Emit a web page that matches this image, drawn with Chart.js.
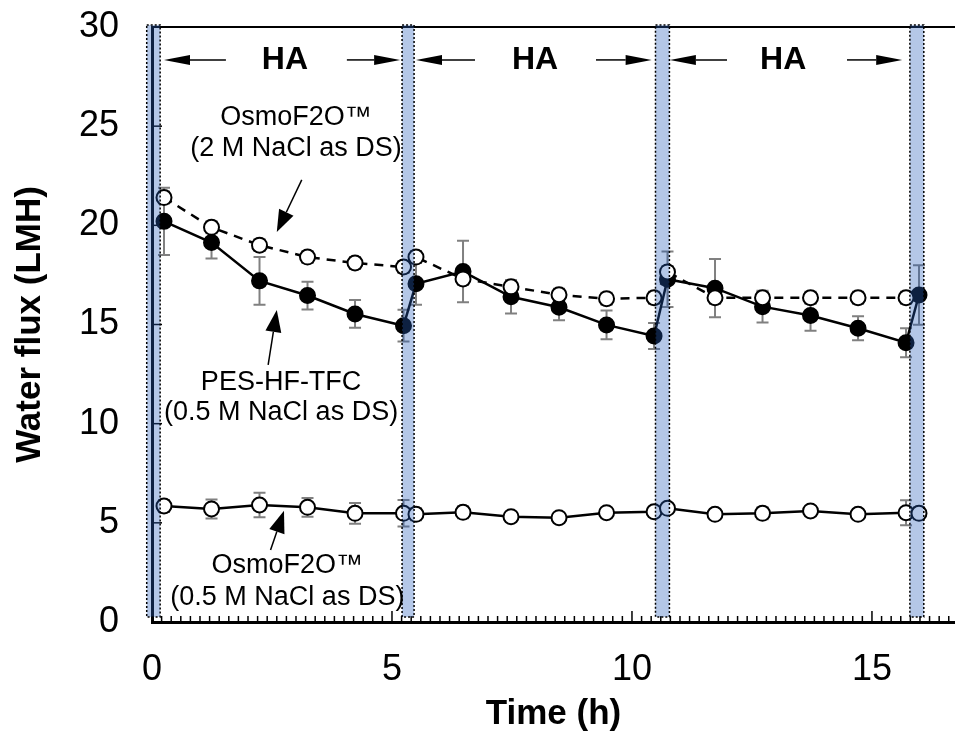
<!DOCTYPE html>
<html>
<head>
<meta charset="utf-8">
<script src="https://cdn.jsdelivr.net/npm/chart.js@4.4.0/dist/chart.umd.min.js"></script>
<style>
html, body { margin: 0; padding: 0; background: #fff; }
</style>
</head>
<body>
<canvas id="myChart" width="955" height="735"></canvas>
<script>
// time axis (h) shared by the three series
var timeH = [0.25, 1.24, 2.24, 3.24, 4.23, 5.24, 5.5, 6.48, 7.48, 8.48, 9.47, 10.46, 10.74, 11.73, 12.72, 13.72, 14.71, 15.71, 15.98];

// OsmoF2O, 2 M NaCl as DS (open circles, dashed)
var fluxOsmo2M = [21.4, 19.9, 19.0, 18.4, 18.1, 17.9, 18.4, 17.3, 16.9, 16.5, 16.3, 16.35, 17.65, 16.35, 16.35, 16.35, 16.35, 16.35, null];
var errOsmo2M  = [0.3, 0.3, 0.3, 0.3, 0.3, 0.3, 0.3, 0.3, 0.3, 0.3, 0.3, 0.3, 0.3, 0.3, 0.3, 0.3, 0.3, 0.3, null];

// PES-HF-TFC, 0.5 M NaCl as DS (filled circles)
var fluxPes = [20.2, 19.13, 17.2, 16.46, 15.53, 14.94, 17.05, 17.67, 16.4, 15.87, 14.98, 14.42, 17.28, 16.83, 15.9, 15.45, 14.81, 14.08, 16.49];
var errPes  = [1.7, 0.8, 1.2, 0.7, 0.7, 0.8, 1.05, 1.55, 0.85, 0.65, 0.72, 0.65, 1.4, 1.47, 0.8, 0.77, 0.6, 0.73, 1.5];

// OsmoF2O, 0.5 M NaCl as DS (open circles, solid)
var fluxOsmo05 = [5.85, 5.7, 5.9, 5.78, 5.48, 5.48, 5.43, 5.53, 5.31, 5.26, 5.51, 5.56, 5.73, 5.43, 5.48, 5.6, 5.43, 5.51, 5.48];
var errOsmo05  = [0.3, 0.48, 0.62, 0.47, 0.52, 0.67, 0.3, 0.3, 0.2, 0.2, 0.2, 0.2, 0.2, 0.2, 0.3, 0.2, 0.2, 0.63, 0.3];

var yTicks = [0, 5, 10, 15, 20, 25, 30];
var xTicks = [0, 5, 10, 15];

// HA feeding intervals (cleaning bands between them), in hours
var bandStart = [-0.11, 5.21, 10.49, 15.79];
var bandEnd   = [0.17, 5.46, 10.78, 16.08];
var haCenter  = [2.77, 7.98, 13.15];
var haLeftArrow  = [[1.54, 0.25], [6.73, 5.5], [11.98, 10.79]];
var haRightArrow = [[4.06, 5.17], [9.25, 10.41], [14.48, 15.63]];
var haLevel = 28.34;

// series labels with pointer arrows
var labelTexts = [["OsmoF2O\u2122", "(2 M NaCl as DS)"], ["PES-HF-TFC", "(0.5 M NaCl as DS)"], ["OsmoF2O\u2122", "(0.5 M NaCl as DS)"]];
var labelX = [3.0, 2.69, 2.82];
var labelY = [[25.42, 23.85], [12.05, 10.54], [2.87, 1.21]];
var pointerFrom = [[3.12, 22.29], [2.42, 12.96], [2.47, 3.63]];
var pointerTo   = [[2.60, 19.66], [2.60, 15.73], [2.75, 5.61]];

var FONT = '"Liberation Sans", Arial, sans-serif';

function pts(arr) {
    var out = [];
    for (var i = 0; i < timeH.length; i++) {
        if (arr[i] !== null) out.push({x: timeH[i], y: arr[i]});
    }
    return out;
}
function errs(arr) {
    return arr.filter(function (v) { return v !== null; });
}

function arrow(ctx, x1, y1, x2, y2, headLen, headHalf, lw) {
    var a = Math.atan2(y2 - y1, x2 - x1);
    var bx = x2 - headLen * Math.cos(a), by = y2 - headLen * Math.sin(a);
    ctx.beginPath();
    ctx.lineWidth = lw;
    ctx.moveTo(x1, y1);
    ctx.lineTo(bx, by);
    ctx.stroke();
    ctx.beginPath();
    ctx.moveTo(x2, y2);
    ctx.lineTo(bx + headHalf * Math.sin(a), by - headHalf * Math.cos(a));
    ctx.lineTo(bx - headHalf * Math.sin(a), by + headHalf * Math.cos(a));
    ctx.closePath();
    ctx.fill();
}

var decorations = {
    id: 'decorations',
    beforeDatasetsDraw: function (chart) {
        var ctx = chart.ctx, xs = chart.scales.x, ys = chart.scales.y, area = chart.chartArea;
        ctx.save();
        // frame top line
        ctx.strokeStyle = '#000';
        ctx.lineWidth = 2;
        ctx.beginPath();
        ctx.moveTo(area.left, area.top);
        ctx.lineTo(area.right, area.top);
        ctx.stroke();
        // inward tick marks
        ctx.lineWidth = 1.5;
        for (var t = 0; t <= 83; t++) {
            var xv = t * 0.2;
            var xp = xs.getPixelForValue(xv);
            var len = (t % 25 === 0) ? 11 : 6;
            ctx.beginPath();
            ctx.moveTo(xp, area.bottom);
            ctx.lineTo(xp, area.bottom - len);
            ctx.stroke();
        }
        yTicks.forEach(function (v) {
            var yp = ys.getPixelForValue(v);
            ctx.beginPath();
            ctx.moveTo(area.left, yp);
            ctx.lineTo(area.left + 10, yp);
            ctx.stroke();
        });
        // error bars
        ctx.strokeStyle = '#808080';
        ctx.lineWidth = 2;
        chart.data.datasets.forEach(function (ds) {
            ds.data.forEach(function (p, i) {
                var e = ds.errorBars[i];
                var xp = xs.getPixelForValue(p.x);
                var y1 = ys.getPixelForValue(p.y + e), y2 = ys.getPixelForValue(p.y - e);
                ctx.beginPath();
                ctx.moveTo(xp, y1); ctx.lineTo(xp, y2);
                ctx.moveTo(xp - 6, y1); ctx.lineTo(xp + 6, y1);
                ctx.moveTo(xp - 6, y2); ctx.lineTo(xp + 6, y2);
                ctx.stroke();
            });
        });
        ctx.restore();
    },
    afterDatasetsDraw: function (chart) {
        var ctx = chart.ctx, xs = chart.scales.x, ys = chart.scales.y, area = chart.chartArea;
        ctx.save();
        // cleaning bands
        for (var b = 0; b < bandStart.length; b++) {
            var x1 = xs.getPixelForValue(bandStart[b]), x2 = xs.getPixelForValue(bandEnd[b]);
            var top = area.top - 2, bot = area.bottom - 5;
            ctx.fillStyle = 'rgba(41,95,186,0.35)';
            ctx.fillRect(x1, top, x2 - x1, bot - top);
            ctx.setLineDash([2, 2]);
            ctx.strokeStyle = '#000';
            ctx.lineWidth = 1.5;
            ctx.strokeRect(x1, top, x2 - x1, bot - top);
            ctx.setLineDash([]);
        }
        // HA annotations
        ctx.fillStyle = '#000';
        ctx.strokeStyle = '#000';
        ctx.font = 'bold 32px ' + FONT;
        ctx.textAlign = 'center';
        ctx.textBaseline = 'middle';
        var hy = ys.getPixelForValue(haLevel);
        for (var h = 0; h < haCenter.length; h++) {
            ctx.fillText('HA', xs.getPixelForValue(haCenter[h]), hy);
            arrow(ctx, xs.getPixelForValue(haLeftArrow[h][0]), hy, xs.getPixelForValue(haLeftArrow[h][1]), hy, 26, 5, 1.5);
            arrow(ctx, xs.getPixelForValue(haRightArrow[h][0]), hy, xs.getPixelForValue(haRightArrow[h][1]), hy, 26, 5, 1.5);
        }
        // series labels
        ctx.font = '27px ' + FONT;
        for (var k = 0; k < labelTexts.length; k++) {
            var lx = xs.getPixelForValue(labelX[k]);
            ctx.fillText(labelTexts[k][0], lx, ys.getPixelForValue(labelY[k][0]));
            ctx.fillText(labelTexts[k][1], lx, ys.getPixelForValue(labelY[k][1]));
            arrow(ctx, xs.getPixelForValue(pointerFrom[k][0]), ys.getPixelForValue(pointerFrom[k][1]),
                xs.getPixelForValue(pointerTo[k][0]), ys.getPixelForValue(pointerTo[k][1]), 22, 8, 1.5);
        }
        ctx.restore();
    }
};

var ctx = document.getElementById('myChart').getContext('2d');
var chart = new Chart(ctx, {
    type: 'line',
    data: {
        datasets: [{
            label: 'OsmoF2O (2 M NaCl as DS)',
            data: pts(fluxOsmo2M),
            errorBars: errs(errOsmo2M),
            borderColor: '#000',
            borderWidth: 2.5,
            borderDash: [9, 7],
            pointRadius: 7.5,
            pointBorderWidth: 2,
            pointBorderColor: '#000',
            pointBackgroundColor: '#fff'
        }, {
            label: 'PES-HF-TFC (0.5 M NaCl as DS)',
            data: pts(fluxPes),
            errorBars: errs(errPes),
            borderColor: '#000',
            borderWidth: 2.5,
            pointRadius: 7.5,
            pointBorderWidth: 2,
            pointBorderColor: '#000',
            pointBackgroundColor: '#000'
        }, {
            label: 'OsmoF2O (0.5 M NaCl as DS)',
            data: pts(fluxOsmo05),
            errorBars: errs(errOsmo05),
            borderColor: '#000',
            borderWidth: 2.5,
            pointRadius: 7.5,
            pointBorderWidth: 2,
            pointBorderColor: '#000',
            pointBackgroundColor: '#fff'
        }]
    },
    options: {
        responsive: false,
        animation: false,
        layout: {autoPadding: false, padding: {top: 27, right: 0, left: 0, bottom: 0}},
        plugins: {legend: {display: false}, tooltip: {enabled: false}},
        scales: {
            x: {
                type: 'linear',
                min: 0,
                max: 16.73,
                afterFit: function (s) { s.height = 113; s.paddingLeft = 0; s.paddingRight = 0; },
                afterBuildTicks: function (s) { s.ticks = xTicks.map(function (v) { return {value: v}; }); },
                grid: {display: false, drawTicks: false},
                border: {display: true, color: '#000', width: 3},
                ticks: {color: '#000', font: {family: FONT, size: 36}, padding: 26, maxRotation: 0},
                title: {display: true, text: 'Time (h)', color: '#000', font: {family: FONT, size: 35, weight: 'bold'}, padding: 0}
            },
            y: {
                min: 0,
                max: 30,
                afterFit: function (s) { s.width = 152; s.paddingTop = 0; s.paddingBottom = 0; },
                afterBuildTicks: function (s) { s.ticks = yTicks.map(function (v) { return {value: v}; }); },
                grid: {display: false, drawTicks: false},
                border: {display: true, color: '#000', width: 3},
                ticks: {color: '#000', font: {family: FONT, size: 36}, padding: 33},
                title: {display: true, text: 'Water flux (LMH)', color: '#000', font: {family: FONT, size: 35, weight: 'bold'}, padding: {top: 9, bottom: 0}}
            }
        }
    },
    plugins: [decorations]
});
</script>
</body>
</html>
